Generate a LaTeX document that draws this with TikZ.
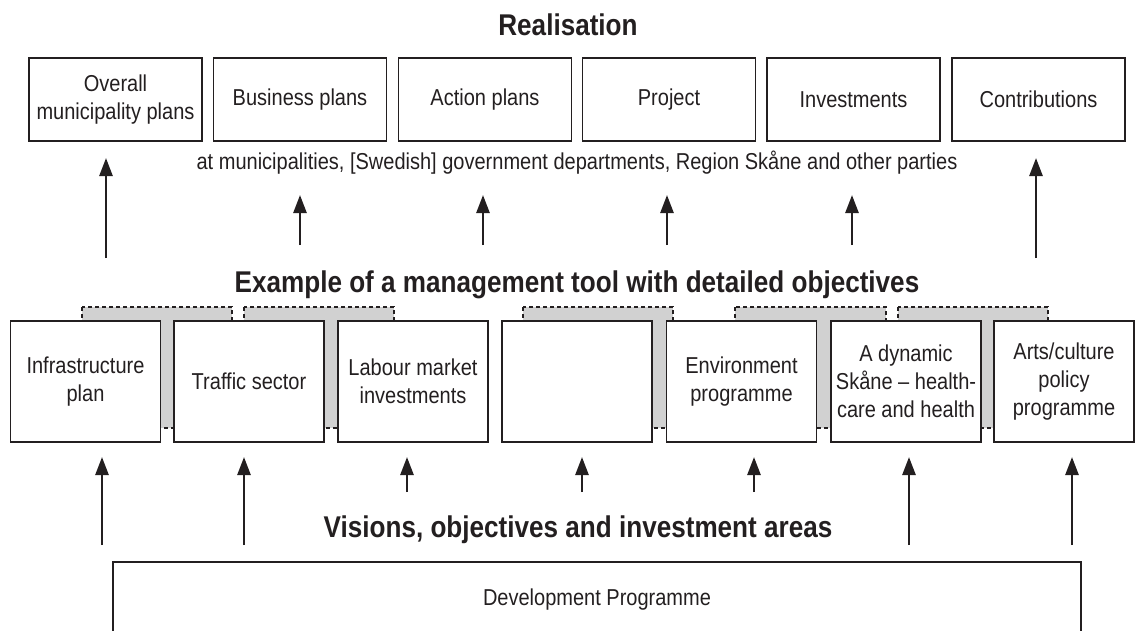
\documentclass[tikz,border=0pt]{standalone}
\usepackage{fontspec}
\setmainfont{Liberation Sans}[FakeStretch=0.87]
\usetikzlibrary{arrows.meta}
\definecolor{ink}{RGB}{35,31,32}
\definecolor{shade}{RGB}{209,209,209}
\tikzset{
  every node/.style={text=ink, font=\fontsize{23}{28}\selectfont, align=center},
  heading/.style={font=\bfseries\fontsize{30}{34}\selectfont},
  plan/.style={draw=ink, line width=1.3pt, fill=white, minimum width=173pt, minimum height=83pt, inner sep=2pt},
  tool/.style={draw=ink, line width=1.3pt, fill=white, minimum width=150pt, minimum height=121pt, inner sep=2pt},
  backing/.style={draw=ink, line width=1.1pt, dash pattern=on 4pt off 3pt, fill=shade},
  up/.style={draw=ink, line width=2.6pt, -{Triangle[width=13pt,length=18pt]}}
}

\begin{document}
\begin{tikzpicture}[x=1pt,y=-1pt]
    \useasboundingbox (0,0) rectangle (1136,630);
      %top row: where the objectives end up
    \node[heading] (realisation) at (568,25) {Realisation};
    \foreach \name/\cx/\txt in {plan1/115.5/{Overall\\municipality plans}, plan2/300/{Business plans},
        plan3/485/{Action plans}, plan4/669/{Project}, plan5/853.5/{Investments}, plan6/1038.5/{Contributions}}
      \node[plan] (\name) at (\cx,99.5) {\txt};
    \node (parties) at (577,163) {at municipalities, [Swedish] government departments, Region Skåne and other parties};
    \foreach \x/\a/\b [count=\i] in {106/258/158, 300/245/195, 483/245/195, 667/245/195, 852/245/195, 1036/258/158} {
      \coordinate (rs\i) at (\x,\a);
      \coordinate (re\i) at (\x,\b);
      \draw[up] (rs\i) -- (re\i);
    }
    \node[heading] (example) at (577,285) {Example of a management tool with detailed objectives};
      %grey dashed blocks sit behind the tool boxes
    \foreach \l/\r in {82/232, 244/394, 523/673, 735/886, 898/1048}
      \draw[backing] (\l,307) rectangle (\r,428);
    \foreach \name/\cx/\txt in {tool1/85.5/{Infrastructure\\plan}, tool2/249/{Traffic sector},
        tool3/413/{Labour market\\investments}, tool4/577/{}, tool5/741.5/{Environment\\programme},
        tool6/906/{A dynamic\\Skåne – health-\\care and health}}
      \node[tool] (\name) at (\cx,381.5) {\txt};
    \node[tool, minimum width=140pt] (tool7) at (1064,381.5) {Arts/culture\\policy\\programme};
    \foreach \x/\b [count=\i] in {102/545, 244/545, 407/492, 582/492, 754/492, 909/545, 1072/545} {
      \coordinate (vs\i) at (\x,\b);
      \coordinate (ve\i) at (\x,457);
      \draw[up] (vs\i) -- (ve\i);
    }
    \node[heading] (visions) at (578,530) {Visions, objectives and investment areas};
      %bottom box runs off the page
    \node[draw=ink, line width=1.3pt, minimum width=968pt, minimum height=76pt] (devprog) at (597,600) {Development Programme};
\end{tikzpicture}
\end{document}
